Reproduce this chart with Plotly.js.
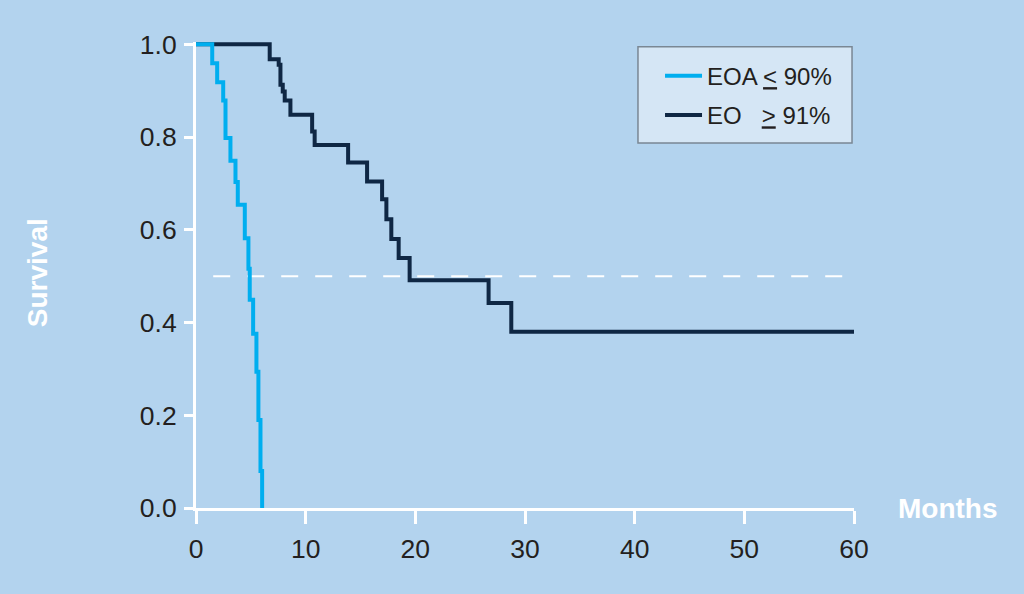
<!DOCTYPE html>
<html><head><meta charset="utf-8">
<script src="https://cdn.plot.ly/plotly-3.0.1.min.js"></script>
<style>html,body{margin:0;padding:0;background:#b3d3ee;}#chart{width:1024px;height:594px;}</style>
</head><body><div id="chart"></div>
<script>
// Kaplan-Meier step data (months, survival)
const eoaMonths   = [0, 1.48, 1.93, 2.48, 2.69, 3.14, 3.60, 3.81, 4.45, 4.78, 4.90, 5.21, 5.51, 5.69, 5.88, 6.03];
const eoaSurvival = [1, 0.959, 0.918, 0.879, 0.798, 0.749, 0.703, 0.654, 0.582, 0.516, 0.449, 0.376, 0.294, 0.190, 0.080, 0];
const eoMonths    = [0, 6.72, 7.54, 7.70, 7.91, 8.09, 8.61, 10.59, 10.82, 13.87, 15.60, 16.97, 17.36, 17.81, 18.48, 19.48, 26.68, 28.75, 60];
const eoSurvival  = [1, 0.968, 0.956, 0.913, 0.898, 0.879, 0.848, 0.812, 0.783, 0.745, 0.704, 0.666, 0.623, 0.580, 0.539, 0.491, 0.442, 0.380, 0.380];
const medianMonths   = [1.57, 60];
const medianSurvival = [0.5, 0.5];
const xTickVals = [0, 10, 20, 30, 40, 50, 60];
const yTickVals = [0, 0.2, 0.4, 0.6, 0.8, 1.0];
const seriesNames = ['EOA <u>&lt;</u> 90%', 'EO&nbsp;&nbsp;&nbsp;<u>&gt;</u> 91%'];
const xLabel = 'Months';
const yLabel = 'Survival';

const FONT = 'Liberation Sans, Arial, Helvetica, sans-serif';
const BG = '#b3d3ee';

const traces = [
  {x: medianMonths, y: medianSurvival, mode: 'lines', showlegend: false, hoverinfo: 'skip',
   line: {color: '#ffffff', width: 2, dash: '17px,17px'}},
  {x: eoMonths, y: eoSurvival, mode: 'lines', name: seriesNames[1], legendrank: 2, legendgroup: 'b',
   line: {color: '#0f2744', width: 4, shape: 'hv'}},
  {x: eoaMonths, y: eoaSurvival, mode: 'lines', name: seriesNames[0], legendrank: 1, legendgroup: 'a',
   line: {color: '#00aeef', width: 4, shape: 'hv'}}
];

const layout = {
  width: 1024, height: 594,
  paper_bgcolor: BG, plot_bgcolor: BG,
  margin: {l: 196, r: 170, t: 42, b: 86, pad: 0},
  font: {family: FONT, color: '#231f20', size: 24},
  xaxis: {range: [0, 60], tickvals: xTickVals, showgrid: false, zeroline: false,
          showline: true, linecolor: '#ffffff', linewidth: 3,
          ticks: 'outside', ticklen: 13, tickwidth: 3, tickcolor: '#ffffff',
          ticklabelstandoff: 2, tickfont: {size: 26.5, color: '#231f20', family: FONT}},
  yaxis: {range: [0, 1.005], tickvals: yTickVals, tickformat: '.1f', showgrid: false, zeroline: false,
          showline: true, linecolor: '#ffffff', linewidth: 3,
          ticks: 'outside', ticklen: 9, tickwidth: 3, tickcolor: '#ffffff',
          ticklabelstandoff: 2, tickfont: {size: 26.5, color: '#231f20', family: FONT}},
  showlegend: true,
  legend: {x: 0.7052, xanchor: 'left', y: 0.975, yanchor: 'top', bgcolor: 'rgba(0,0,0,0)',
           borderwidth: 0, itemwidth: 37, tracegroupgap: 5,
           font: {size: 24, color: '#231f20', family: FONT}},
  shapes: [
    {type: 'rect', xref: 'paper', yref: 'paper', x0: 0.6717, x1: 0.997, y0: 0.7833, y1: 0.9899,
     fillcolor: '#d5e6f5', line: {color: '#7a8794', width: 1.5}, layer: 'below'}
  ],
  annotations: [
    {text: '<b>' + yLabel + '</b>', xref: 'paper', yref: 'paper', x: -0.2416, y: 0.504,
     xanchor: 'center', yanchor: 'middle', textangle: -90, showarrow: false,
     font: {size: 28, color: '#ffffff', family: FONT}},
    {text: '<b>' + xLabel + '</b>', xref: 'paper', yref: 'paper', x: 1.1429, y: 0,
     xanchor: 'center', yanchor: 'middle', showarrow: false,
     font: {size: 28, color: '#ffffff', family: FONT}}
  ]
};

Plotly.newPlot('chart', traces, layout, {displayModeBar: false, staticPlot: true});
</script>
</body></html>
